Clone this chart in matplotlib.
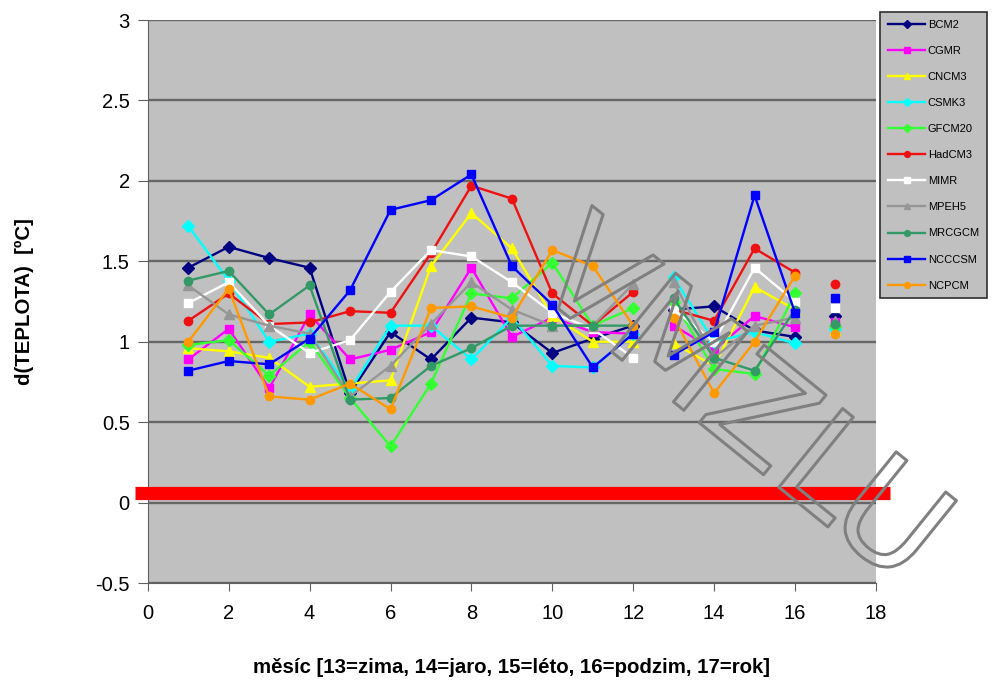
import numpy as np
import matplotlib
matplotlib.use("Agg")
import matplotlib.pyplot as plt
import matplotlib.patheffects as pe
from matplotlib.ticker import FuncFormatter

plt.rcParams['font.family'] = ['Liberation Sans', 'DejaVu Sans']

# x positions: 1-12 months, 13-16 seasons, 17 year
months = list(range(1, 13))
seasons = [13, 14, 15, 16]
year = [17]

names = ['BCM2', 'CGMR', 'CNCM3', 'CSMK3', 'GFCM20', 'HadCM3',
         'MIMR', 'MPEH5', 'MRCGCM', 'NCCCSM', 'NCPCM']

# values per model: 12 months + 4 seasons + year
bcm2   = [1.46, 1.59, 1.52, 1.46, 0.68, 1.06, 0.89, 1.15, 1.12, 0.93, 1.02, 1.10, 1.20, 1.22, 1.07, 1.03, 1.16]
cgmr   = [0.89, 1.08, 0.71, 1.17, 0.89, 0.95, 1.06, 1.46, 1.03, 1.15, 1.06, 1.05, 1.10, 0.95, 1.16, 1.09, 1.12]
cncm3  = [0.96, 0.94, 0.90, 0.72, 0.74, 0.76, 1.47, 1.80, 1.58, 1.16, 1.00, 1.00, 0.99, 0.85, 1.34, 1.20, 1.07]
csmk3  = [1.72, 1.38, 1.00, 1.05, 0.70, 1.10, 1.10, 0.89, 1.15, 0.85, 0.84, 1.05, 1.40, 1.00, 1.06, 0.99, 1.08]
gfcm20 = [0.98, 1.01, 0.79, 1.00, 0.65, 0.35, 0.74, 1.30, 1.27, 1.49, 1.10, 1.21, 1.25, 0.83, 0.80, 1.30, 1.10]
hadcm3 = [1.13, 1.30, 1.11, 1.12, 1.19, 1.18, 1.55, 1.97, 1.89, 1.30, 1.10, 1.31, 1.20, 1.13, 1.58, 1.43, 1.36]
mimr   = [1.24, 1.37, 1.10, 0.93, 1.01, 1.31, 1.57, 1.53, 1.37, 1.18, 1.08, 0.90, 1.20, 1.00, 1.46, 1.25, 1.21]
mpeh5  = [1.35, 1.17, 1.10, 1.05, 0.66, 0.85, 1.11, 1.37, 1.20, 1.10, 1.10, 1.36, 1.37, 0.90, 1.10, 1.15, 1.13]
mrcgcm = [1.38, 1.44, 1.17, 1.35, 0.64, 0.65, 0.85, 0.96, 1.10, 1.10, 1.10, 1.10, 1.27, 0.90, 0.82, 1.20, 1.11]
ncccsm = [0.82, 0.88, 0.86, 1.02, 1.32, 1.82, 1.88, 2.04, 1.47, 1.23, 0.84, 1.05, 0.92, 1.06, 1.91, 1.18, 1.27]
ncpcm  = [1.00, 1.33, 0.66, 0.64, 0.74, 0.58, 1.21, 1.22, 1.15, 1.57, 1.47, 1.10, 1.15, 0.68, 1.00, 1.41, 1.05]

series = [bcm2, cgmr, cncm3, csmk3, gfcm20, hadcm3, mimr, mpeh5, mrcgcm, ncccsm, ncpcm]
colors = ['#000080', '#ff00ff', '#ffff00', '#00ffff', '#33ff33', '#ee1111',
          '#ffffff', '#969696', '#339966', '#0000ff', '#ff9900']
markers = ['D', 's', '^', 'D', 'D', 'o', 's', '^', 'o', 's', 'o']

fig = plt.figure(figsize=(9.92, 6.93), dpi=100)
ax = fig.add_axes([0.149, 0.1587, 0.734, 0.8124])
ax.set_facecolor('#c0c0c0')

for name, vals, col, mk in zip(names, series, colors, markers):
    ms = 6 if mk != '^' else 7
    ax.plot(months, vals[:12], color=col, marker=mk, ms=ms, lw=1.7, label=name)
    ax.plot(seasons, vals[12:16], color=col, marker=mk, ms=ms, lw=1.7)
    ax.plot(year, vals[16:], color=col, marker=mk, ms=ms, lw=0)

# thick red reference line, runs a bit outside the plot area
ax.plot([-0.32, 18.35], [0.062, 0.062], color='#ff0000', lw=9.5,
        solid_capstyle='butt', clip_on=False, zorder=5)

ax.set_xlim(0, 18)
ax.set_ylim(-0.5, 3)
ax.set_xticks(range(0, 19, 2))
ax.set_yticks(np.arange(-0.5, 3.01, 0.5))
ax.yaxis.set_major_formatter(FuncFormatter(lambda v, p: f"{v:g}"))
ax.tick_params(labelsize=14.5, direction='out', color='#606060')
ax.tick_params(axis='y', length=7, pad=6)
ax.tick_params(axis='x', length=6, pad=9)
ax.grid(axis='y', color='#666666', lw=1.7)
ax.set_axisbelow(True)
for s in ['top', 'right']:
    ax.spines[s].set_visible(False)
ax.spines['left'].set_color('#606060')
ax.spines['bottom'].set_color('#606060')

ax.set_xlabel('měsíc [13=zima, 14=jaro, 15=léto, 16=podzim, 17=rok]',
              fontsize=14.7, fontweight='bold', labelpad=25)
ax.set_ylabel('d(TEPLOTA)  [ºC]', fontsize=14.7, fontweight='bold', labelpad=44)

leg = fig.legend(loc='upper left', bbox_to_anchor=(0.887, 0.983), fontsize=8,
                 frameon=True, fancybox=False, edgecolor='#303030',
                 facecolor='#c0c0c0', framealpha=1, handlelength=3.4,
                 handletextpad=0.2, labelspacing=1.45, borderpad=0.7,
                 borderaxespad=0, markerscale=0.7)
leg.get_frame().set_linewidth(1.2)

# hollow watermark
fig.text(0.745, 0.415, 'VMZLU', rotation=-39, fontsize=100, color='none',
         ha='center', va='center', rotation_mode='anchor', zorder=10,
         family='DejaVu Sans',
         path_effects=[pe.withStroke(linewidth=2.2, foreground='#808080')])

fig.savefig('out.png', dpi=100)
